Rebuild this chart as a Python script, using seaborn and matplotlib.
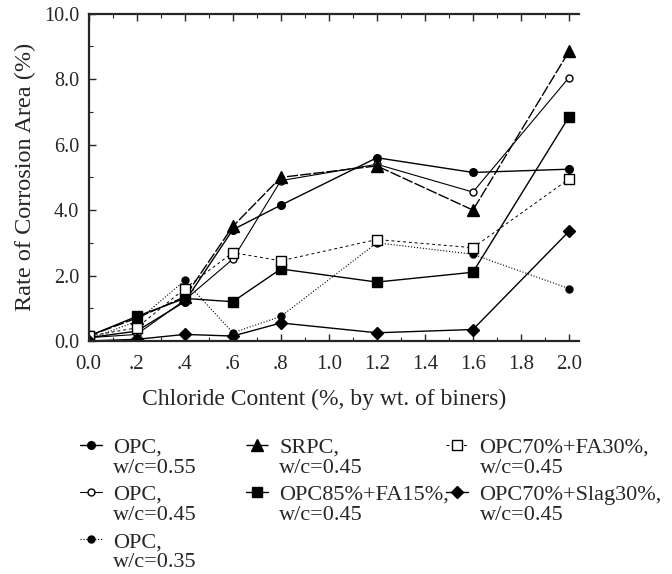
import numpy as np
import pandas as pd
from matplotlib import pyplot as plt
from matplotlib.ticker import MultipleLocator, FuncFormatter
from matplotlib.legend_handler import HandlerLine2D
import seaborn as sns

# chloride content (%) and corrosion area (%)
chloride = [0.0, 0.2, 0.4, 0.6, 0.8, 1.2, 1.6, 2.0]
opc_55 = [0.1, 0.3, 1.2, 3.4, 4.15, 5.6, 5.15, 5.25]
opc_45 = [0.1, 0.2, 1.25, 2.5, 4.9, 5.4, 4.55, 8.05]
opc_35 = [0.05, 0.6, 1.85, 0.25, 0.75, 3.0, 2.65, 1.6]
srpc_45 = [0.15, 0.7, 1.35, 3.5, 5.0, 5.35, 4.0, 8.85]
fa15_45 = [0.15, 0.75, 1.3, 1.2, 2.2, 1.8, 2.1, 6.85]
fa30_45 = [0.15, 0.4, 1.6, 2.7, 2.45, 3.1, 2.85, 4.95]
slag30_45 = [0.0, 0.05, 0.2, 0.15, 0.55, 0.25, 0.35, 3.35]

labels = ['OPC,\nw/c=0.55', 'OPC,\nw/c=0.45', 'OPC,\nw/c=0.35',
          'SRPC,\nw/c=0.45', 'OPC85%+FA15%,\nw/c=0.45',
          'OPC70%+FA30%,\nw/c=0.45', 'OPC70%+Slag30%,\nw/c=0.45']
series = [opc_55, opc_45, opc_35, srpc_45, fa15_45, fa30_45, slag30_45]

df = pd.DataFrame({
    'Chloride': np.tile(chloride, len(series)),
    'Corrosion': np.concatenate(series),
    'Mix': np.repeat(labels, len(chloride)),
})

sns.set_style('ticks')
plt.rcParams['font.family'] = ['Liberation Serif', 'DejaVu Serif']

fig = plt.figure(figsize=(6.72, 5.74), dpi=100)
ax = fig.add_axes([0.132, 0.406, 0.729, 0.570])

#marker / line style for every mix
styles = {
    labels[0]: dict(marker='o', ms=5.5, mfc='black', ls='-', lw=1.0),
    labels[1]: dict(marker='o', ms=5, mfc='white', ls='-', lw=0.8),
    labels[2]: dict(marker='o', ms=5, mfc='black', ls=':', lw=0.8),
    labels[3]: dict(marker='^', ms=8, mfc='black', ls=(0, (8, 1.5)), lw=1.0),
    labels[4]: dict(marker='s', ms=7, mfc='black', ls='-', lw=1.0),
    labels[5]: dict(marker='s', ms=7, mfc='white', ls=(0, (3, 3)), lw=0.7),
    labels[6]: dict(marker='D', ms=6, mfc='black', ls='-', lw=1.0),
}

for mix in labels:
    st = styles[mix]
    sns.lineplot(data=df[df['Mix'] == mix], x='Chloride', y='Corrosion', ax=ax,
                 color='black', marker=st['marker'], markersize=st['ms'],
                 markerfacecolor=st['mfc'], markeredgecolor='black', markeredgewidth=1,
                 linestyle=st['ls'], linewidth=st['lw'], label=mix)

ax.set_xlim(0, 2.04)
ax.set_ylim(0, 10)
ax.xaxis.set_major_locator(MultipleLocator(0.2))
ax.xaxis.set_minor_locator(MultipleLocator(0.1))
ax.yaxis.set_major_locator(MultipleLocator(2))
ax.yaxis.set_minor_locator(MultipleLocator(1))

def xfmt(v, pos):
    s = '%.1f' % v
    if s.startswith('0.') and s != '0.0':
        s = s[1:]
    return s

ax.xaxis.set_major_formatter(FuncFormatter(xfmt))
ax.yaxis.set_major_formatter(FuncFormatter(lambda v, p: '%.1f' % v))
ax.tick_params(which='both', direction='in', top=True, right=False)
ax.tick_params(axis='x', labelsize=15, pad=10)
ax.tick_params(axis='y', labelsize=14.5, pad=7)
ax.tick_params(which='major', length=5, width=1)
ax.tick_params(which='minor', length=3, width=0.8)
for s in ['left', 'bottom', 'top']:
    ax.spines[s].set_linewidth(1.6)
ax.spines['right'].set_visible(False)

ax.set_xlabel('Chloride Content (%, by wt. of biners)', fontsize=17)
ax.set_ylabel('Rate of Corrosion Area (%)', fontsize=17.5)
ax.xaxis.set_label_coords(0.48, -0.145)
ax.yaxis.set_label_coords(-0.108, 0.5)

#legend handle sits on the first line of the two-line label
class TopLine(HandlerLine2D):
    def create_artists(self, legend, orig_handle, xdescent, ydescent,
                       width, height, fontsize, trans):
        arts = super().create_artists(legend, orig_handle, xdescent, ydescent,
                                      width, height, fontsize, trans)
        for a in arts:
            a.set_ydata(np.asarray(a.get_ydata()) + 0.58 * fontsize)
        return arts

handles, hl = ax.get_legend_handles_labels()
ax.legend().remove()
cols = [(0, 3, 0.109), (3, 5, 0.356), (5, 7, 0.654)]
for i0, i1, x0 in cols:
    leg = fig.legend(handles[i0:i1], hl[i0:i1], loc='upper left',
                     bbox_to_anchor=(x0, 0.247), frameon=False, fontsize=16,
                     handlelength=1.0, handletextpad=0.5, labelspacing=0.38,
                     borderaxespad=0, borderpad=0.3,
                     handler_map={h: TopLine() for h in handles})
    for t in leg.get_texts():
        t.set_linespacing(1.05)

fig.savefig('out.png', dpi=100)
